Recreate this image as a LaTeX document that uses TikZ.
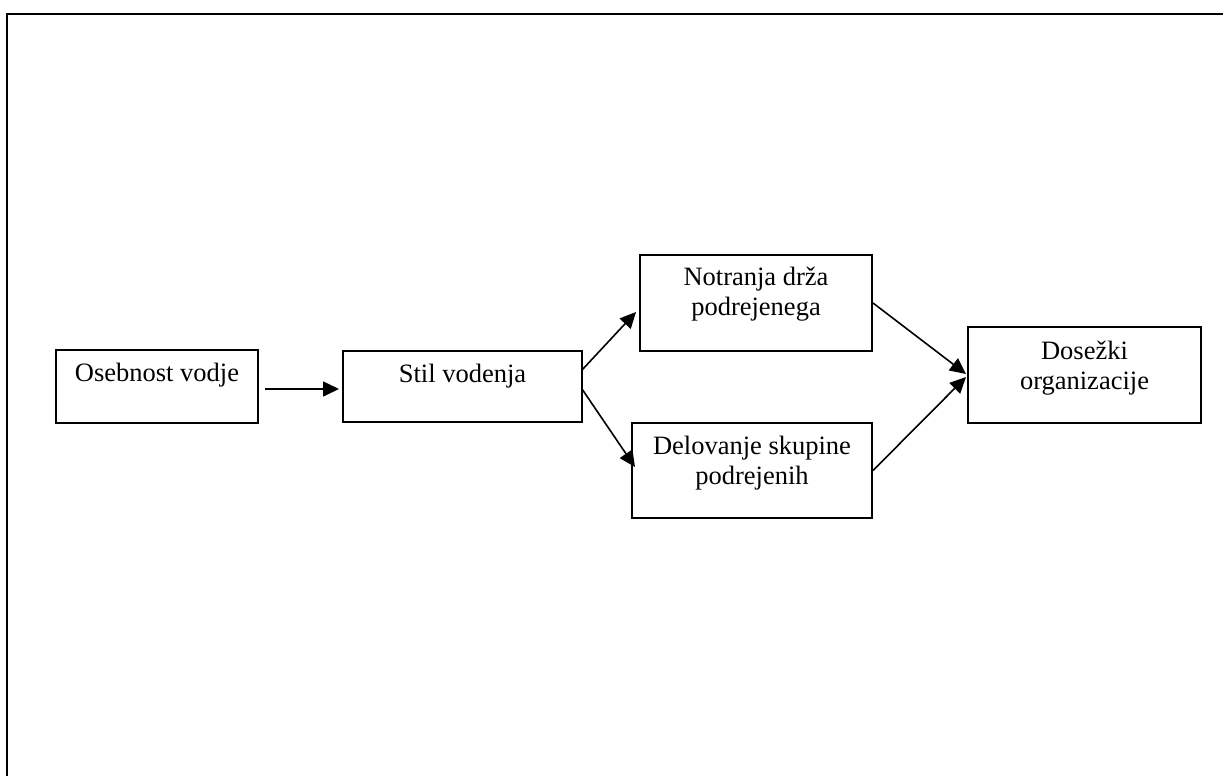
\documentclass[tikz,border=0pt]{standalone}
\usepackage{fontspec}
\setmainfont{Liberation Serif}
\usetikzlibrary{arrows.meta}
\begin{document}
\begin{tikzpicture}[x=1pt,y=-1pt,
  box/.style={draw=black,line width=2pt,rectangle,inner sep=0pt},
  lbl/.style={align=center,inner sep=0pt,font=\fontsize{26.5}{30}\selectfont},
  arr/.style={draw=black,line width=1.6pt,-{Triangle[length=16pt,width=15pt]}}]
\clip (0,0) rectangle (1223,776);
\fill[white] (0,0) rectangle (1223,776);
% outer frame (only top and left edges lie on the page)
\draw[line width=2.2pt] (7,790) -- (7,14) -- (1240,14);

% boxes
\node[box,minimum width=202pt,minimum height=73pt] (b1) at (157,386.5) {};
\node[box,minimum width=239pt,minimum height=71pt] (b2) at (462.5,386.5) {};
\node[box,minimum width=232pt,minimum height=96pt] (b3) at (756,303) {};
\node[box,minimum width=240pt,minimum height=95pt] (b4) at (752,470.5) {};
\node[box,minimum width=233pt,minimum height=96pt] (b5) at (1084.5,375) {};

% texts, set near the top of each box (base = baseline of the last line)
\node[lbl,anchor=base] (t1) at ([yshift=-32pt]b1.north) {Osebnost vodje};
\node[lbl,anchor=base] (t2) at ([yshift=-32pt]b2.north) {Stil vodenja};
\node[lbl,anchor=base] (t3) at ([yshift=-61pt]b3.north) {Notranja drža\\podrejenega};
\node[lbl,anchor=base] (t4) at ([yshift=-62pt]b4.north) {Delovanje skupine\\podrejenih};
\node[lbl,anchor=base] (t5) at ([yshift=-63pt]b5.north) {Dosežki\\organizacije};

% connectors
\draw[arr] ([xshift=6pt,yshift=-2.5pt]b1.east) -- ([xshift=-3pt,yshift=-2.5pt]b2.west);
\draw[arr] ([xshift=-1pt,yshift=16.5pt]b2.east) -- ([xshift=-3pt,yshift=-9pt]b3.west);
\draw[arr] ([xshift=-1pt,yshift=-2.5pt]b2.east) -- ([xshift=4pt,yshift=3.5pt]b4.west);
\draw[arr] (b3.east) -- ([xshift=-1pt,yshift=1pt]b5.west);
\draw[arr] (b4.east) -- ([xshift=-1pt,yshift=-2pt]b5.west);
\end{tikzpicture}
\end{document}
